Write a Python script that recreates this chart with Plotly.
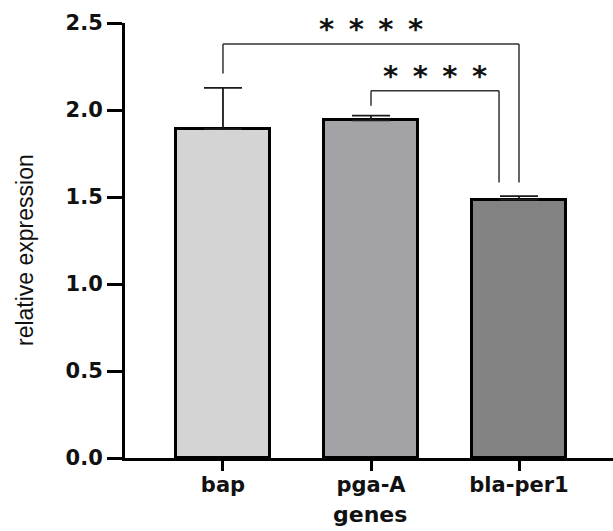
import plotly.graph_objects as go

# ---- data ----
genes = ["bap", "pga-A", "bla-per1"]
expression = [1.89, 1.94, 1.485]
error_up = [0.237, 0.028, 0.02]
bar_colors = ["#d4d4d4", "#a3a3a7", "#828282"]
y_tickvals = [0.0, 0.5, 1.0, 1.5, 2.0, 2.5]
significance = ["****", "****"]
x_title = "genes"
y_title = "relative expression"

x_pos = list(range(len(genes)))

fig = go.Figure()
fig.add_trace(go.Bar(
    x=x_pos, y=expression, width=0.64,
    marker=dict(color=bar_colors, line=dict(color="black", width=3)),
    error_y=dict(type="data", array=error_up, arrayminus=[0]*len(genes),
                 symmetric=False, color="#1a1a1a", thickness=1.8, width=19),
    showlegend=False,
))

# significance brackets: (left x, right x, bar height, left leg bottom, right leg bottom)
brackets = [
    (0, 2, 2.38, 2.21, 1.584),
    (1, 1.865, 2.11, 2.025, 1.584),
]
line_style = dict(color="#333333", width=1.5)
for (xa, xb, yh, ya, yb), label in zip(brackets, significance):
    fig.add_shape(type="line", x0=xa, x1=xa, y0=ya, y1=yh, line=line_style)
    fig.add_shape(type="line", x0=xa, x1=xb, y0=yh, y1=yh, line=line_style)
    fig.add_shape(type="line", x0=xb, x1=xb, y0=yh, y1=yb, line=line_style)
    stars = "\u2002".join(list(label))
    fig.add_annotation(x=(xa + xb) / 2, y=yh, yshift=-4, text=stars,
                       showarrow=False, yanchor="bottom",
                       font=dict(family="DejaVu Sans", size=29, color="#111", weight="bold"))

# axis titles
fig.add_annotation(xref="paper", yref="paper", x=(370 - 125) / 488, y=-(514 - 458) / 435,
                   text=x_title, showarrow=False, xanchor="center", yanchor="middle",
                   font=dict(family="DejaVu Sans", size=22, color="#111", weight="bold"))
fig.add_annotation(xref="paper", yref="paper", x=-(125 - 25) / 488, y=(458 - 250) / 435,
                   text=y_title, showarrow=False, textangle=-90,
                   xanchor="center", yanchor="middle",
                   font=dict(family="Liberation Sans", size=23, color="#111"))

fig.update_layout(
    width=613, height=531,
    margin=dict(l=125, r=0, t=23, b=73),
    plot_bgcolor="white", paper_bgcolor="white",
    bargap=0,
)
fig.update_xaxes(
    range=[-0.662, 2.635], automargin=False,
    tickvals=x_pos, ticktext=genes,
    showline=True, linecolor="black", linewidth=3,
    ticks="outside", ticklen=10, tickwidth=3, tickcolor="black",
    ticklabelstandoff=-4,
    tickfont=dict(family="DejaVu Sans", size=21, color="#111", weight="bold"),
    showgrid=False, zeroline=False,
)
fig.update_yaxes(
    range=[0, 2.5], automargin=False,
    tickvals=y_tickvals, tickformat=".1f",
    showline=True, linecolor="black", linewidth=3,
    ticks="outside", ticklen=15, tickwidth=3, tickcolor="black",
    tickfont=dict(family="DejaVu Sans", size=21, color="#111", weight="bold"),
    showgrid=False, zeroline=False,
)

fig.write_html("out.html", config={"displayModeBar": False},
               post_script="document.body.style.margin='0';")
